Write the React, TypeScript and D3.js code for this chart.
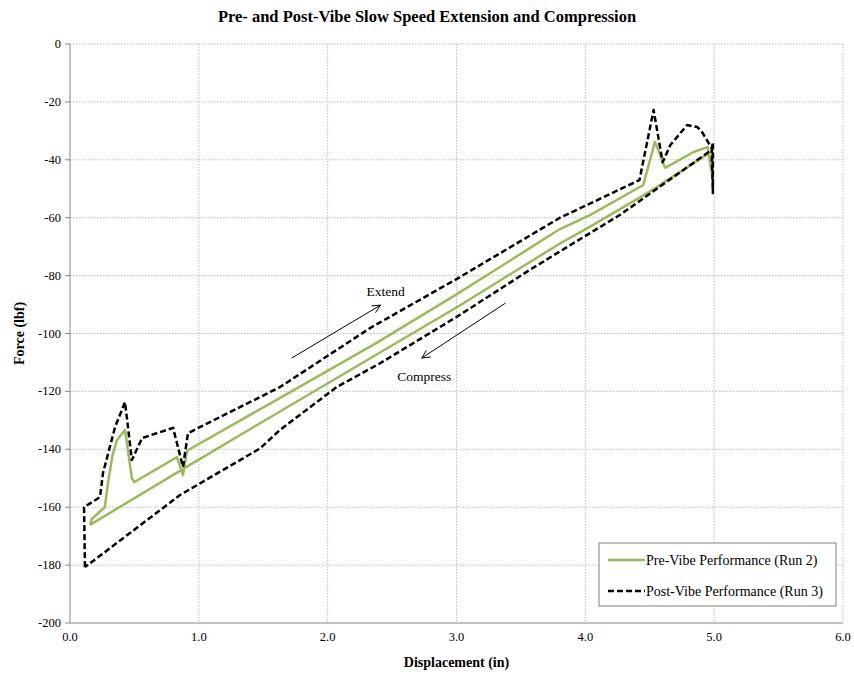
import React from "react";
import * as d3 from "d3";

// ---- Data ----
// Pre-Vibe Performance (Run 2): extension branch then compression branch
const preX = [0.155, 0.17, 0.27, 0.295, 0.33, 0.365, 0.427, 0.48, 0.5, 0.83, 0.877, 0.908, 1.6, 2.37, 3.0, 3.8, 4.04, 4.45, 4.54, 4.62, 4.84, 4.95, 4.98, 4.985, 4.5, 4.04, 3.8, 3.0, 2.37, 1.475, 0.908, 0.155];
const preY = [-166.1, -164, -160, -151.6, -142, -136.8, -133.3, -150, -151.3, -142.7, -148.9, -140.5, -123, -103.5, -86.5, -64, -59, -48.7, -33.8, -42.8, -37.3, -35.6, -44.6, -37, -51, -63, -69, -91, -107.5, -131, -146, -166.1];

// Post-Vibe Performance (Run 3)
const postX = [0.116, 0.109, 0.233, 0.256, 0.35, 0.427, 0.48, 0.56, 0.8, 0.877, 0.916, 1.63, 2.33, 3.0, 3.8, 4.42, 4.53, 4.6, 4.66, 4.79, 4.87, 4.91, 4.98, 4.99, 4.99, 4.98, 4.27, 3.86, 3.57, 3.0, 2.41, 2.07, 1.63, 1.475, 0.854, 0.116];
const postY = [-180.7, -160, -156.5, -148.2, -132.3, -123.7, -143.7, -136.1, -132.6, -146.1, -134.4, -118.5, -98.1, -81.2, -60.1, -47, -22.8, -40.8, -34.9, -28, -28.7, -30.7, -35.9, -51.5, -34, -36.6, -59, -70.1, -78, -94.3, -110.2, -118.5, -133.3, -139.7, -155.8, -180.7];

const xTicks = [0, 1, 2, 3, 4, 5, 6];
const yTicks = [0, -20, -40, -60, -80, -100, -120, -140, -160, -180, -200];

const seriesNames = ["Pre-Vibe Performance (Run 2)", "Post-Vibe Performance (Run 3)"];

// annotation arrows [x1, y1, x2, y2] in data units, labels
const extendArrow = [1.72, -108.5, 2.41, -90.2];
const compressArrow = [3.38, -89.5, 2.73, -108.5];
const extendLabel = { x: 2.45, y: -87, text: "Extend" };
const compressLabel = { x: 2.75, y: -116.5, text: "Compress" };

const W = 854;
const H = 681;
const M = { left: 70, right: 11, top: 44, bottom: 58 };

const GREEN = "#9BBB59";
const FONT = "'Liberation Serif', 'Times New Roman', serif";

export default function App() {
  const x = d3.scaleLinear().domain([0, 6]).range([M.left, W - M.right]);
  const y = d3.scaleLinear().domain([-200, 0]).range([H - M.bottom, M.top]);

  const line = d3
    .line<[number, number]>()
    .x((d) => x(d[0]))
    .y((d) => y(d[1]));

  const pre: [number, number][] = preX.map((v, i) => [v, preY[i]]);
  const post: [number, number][] = postX.map((v, i) => [v, postY[i]]);

  const arrow = (a: number[], key: string) => {
    const x1 = x(a[0]), y1 = y(a[1]), x2 = x(a[2]), y2 = y(a[3]);
    const ang = Math.atan2(y2 - y1, x2 - x1);
    const L = 9, spread = 0.45;
    const p1 = [x2 - L * Math.cos(ang - spread), y2 - L * Math.sin(ang - spread)];
    const p2 = [x2 - L * Math.cos(ang + spread), y2 - L * Math.sin(ang + spread)];
    return (
      <g key={key} stroke="#000" strokeWidth={1} fill="none">
        <line x1={x1} y1={y1} x2={x2} y2={y2} />
        <polyline points={`${p1[0]},${p1[1]} ${x2},${y2} ${p2[0]},${p2[1]}`} />
      </g>
    );
  };

  const x0 = M.left, x1 = W - M.right, yTop = M.top, yBot = H - M.bottom;

  return (
    <svg
      width={W}
      height={H}
      style={{ position: "absolute", left: 0, top: 0, background: "#fff" }}
      fontFamily={FONT}
    >
      <rect x={0} y={0} width={W} height={H} fill="#fff" />
      {/* title */}
      <text x={W / 2} y={22} textAnchor="middle" fontWeight="bold" fontSize={16.5}>
        Pre- and Post-Vibe Slow Speed Extension and Compression
      </text>

      {/* grid */}
      <g stroke="#bdbdbd" strokeWidth={1} strokeDasharray="1.5,1.5">
        {xTicks.filter((t) => t !== 0).map((t) => (
          <line key={"gx" + t} x1={x(t)} x2={x(t)} y1={yTop} y2={yBot} />
        ))}
        {yTicks.filter((t) => t !== -200).map((t) => (
          <line key={"gy" + t} x1={x0} x2={x1} y1={y(t)} y2={y(t)} />
        ))}
      </g>

      {/* axes */}
      <g stroke="#868686" strokeWidth={1}>
        <line x1={x0} x2={x0} y1={yTop} y2={yBot} />
        <line x1={x0} x2={x1} y1={yBot} y2={yBot} />
        {yTicks.map((t) => (
          <line key={"ty" + t} x1={x0 - 5} x2={x0} y1={y(t)} y2={y(t)} />
        ))}
      </g>

      {/* tick labels */}
      <g fontSize={12.5} fill="#000">
        {yTicks.map((t) => (
          <text key={"ly" + t} x={x0 - 9} y={y(t) + 4} textAnchor="end">
            {t === 0 ? "0" : "-" + Math.abs(t)}
          </text>
        ))}
        {xTicks.map((t) => (
          <text key={"lx" + t} x={x(t)} y={yBot + 18} textAnchor="middle">
            {t.toFixed(1)}
          </text>
        ))}
      </g>

      {/* axis titles */}
      <text x={(x0 + x1) / 2} y={667} textAnchor="middle" fontWeight="bold" fontSize={14}>
        Displacement (in)
      </text>
      <text
        transform={`translate(24, ${(yTop + yBot) / 2}) rotate(-90)`}
        textAnchor="middle"
        fontWeight="bold"
        fontSize={14}
      >
        Force (lbf)
      </text>

      {/* series */}
      <path d={line(pre) || ""} fill="none" stroke={GREEN} strokeWidth={2.5} strokeLinejoin="round" />
      <path
        d={line(post) || ""}
        fill="none"
        stroke="#000"
        strokeWidth={2.5}
        strokeDasharray="6,3"
        strokeLinejoin="round"
      />

      {/* annotations */}
      {arrow(extendArrow, "ea")}
      {arrow(compressArrow, "ca")}
      <text x={x(extendLabel.x)} y={y(extendLabel.y)} textAnchor="middle" fontSize={13.5}>
        {extendLabel.text}
      </text>
      <text x={x(compressLabel.x)} y={y(compressLabel.y)} textAnchor="middle" fontSize={13.5}>
        {compressLabel.text}
      </text>

      {/* legend */}
      <g>
        <rect x={599} y={543} width={237} height={63} fill="#fff" stroke="#808080" strokeWidth={1} />
        <line x1={608} x2={645} y1={560} y2={560} stroke={GREEN} strokeWidth={2.5} />
        <text x={646} y={564.5} fontSize={14}>{seriesNames[0]}</text>
        <line x1={608} x2={645} y1={591} y2={591} stroke="#000" strokeWidth={2.5} strokeDasharray="6,3" />
        <text x={646} y={595.5} fontSize={14}>{seriesNames[1]}</text>
      </g>
    </svg>
  );
}
